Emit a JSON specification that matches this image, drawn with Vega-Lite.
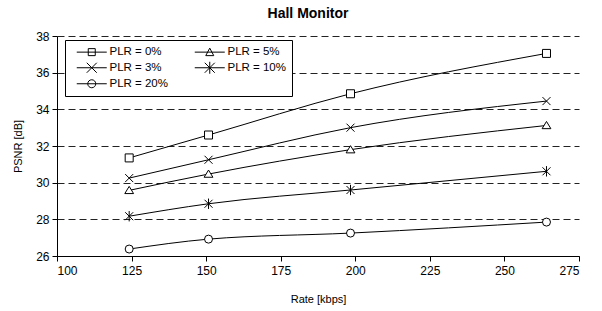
{
  "$schema": "https://vega.github.io/schema/vega-lite/v6.json",
  "autosize": {"type": "none"},
  "padding": {"left": 57, "top": 36, "right": 23, "bottom": 55},
  "width": 522,
  "height": 220,
  "background": "white",
  "title": {"text": "Hall Monitor", "font": "Liberation Sans", "fontSize": 14, "fontWeight": "bold", "color": "black", "anchor": "middle", "offset": 9, "dx": -10},
  "data": {"values": [
    {"rate": 124.2, "psnr": 31.35, "plr": "PLR = 0%"},
    {"rate": 150.8, "psnr": 32.6, "plr": "PLR = 0%"},
    {"rate": 198.4, "psnr": 34.85, "plr": "PLR = 0%"},
    {"rate": 264.1, "psnr": 37.05, "plr": "PLR = 0%"},
    {"rate": 124.2, "psnr": 30.25, "plr": "PLR = 3%"},
    {"rate": 150.8, "psnr": 31.25, "plr": "PLR = 3%"},
    {"rate": 198.4, "psnr": 33.0, "plr": "PLR = 3%"},
    {"rate": 264.1, "psnr": 34.45, "plr": "PLR = 3%"},
    {"rate": 124.2, "psnr": 29.58, "plr": "PLR = 5%"},
    {"rate": 150.8, "psnr": 30.47, "plr": "PLR = 5%"},
    {"rate": 198.4, "psnr": 31.8, "plr": "PLR = 5%"},
    {"rate": 264.1, "psnr": 33.12, "plr": "PLR = 5%"},
    {"rate": 124.2, "psnr": 28.17, "plr": "PLR = 10%"},
    {"rate": 150.8, "psnr": 28.85, "plr": "PLR = 10%"},
    {"rate": 198.4, "psnr": 29.6, "plr": "PLR = 10%"},
    {"rate": 264.1, "psnr": 30.62, "plr": "PLR = 10%"},
    {"rate": 124.2, "psnr": 26.38, "plr": "PLR = 20%"},
    {"rate": 150.8, "psnr": 26.92, "plr": "PLR = 20%"},
    {"rate": 198.4, "psnr": 27.25, "plr": "PLR = 20%"},
    {"rate": 264.1, "psnr": 27.85, "plr": "PLR = 20%"}
  ]},
  "config": {
    "view": {"stroke": null},
    "font": "Liberation Sans",
    "axis": {
      "labelFont": "Liberation Sans", "labelFontSize": 12, "labelColor": "black",
      "titleFont": "Liberation Sans", "titleFontSize": 11, "titleFontWeight": "normal", "titleColor": "black",
      "domainColor": "black", "tickColor": "black", "tickSize": 5
    }
  },
  "encoding": {
    "x": {"field": "rate", "type": "quantitative", "scale": {"domain": [100, 275], "nice": false, "zero": false},
      "axis": {"title": "Rate [kbps]", "values": [100, 125, 150, 175, 200, 225, 250, 275], "grid": false, "labelPadding": 4, "titleY": 37}},
    "y": {"field": "psnr", "type": "quantitative", "scale": {"domain": [26, 38], "nice": false, "zero": false},
      "axis": {"title": "PSNR [dB]", "values": [26, 28, 30, 32, 34, 36, 38], "grid": true, "gridColor": "#222", "gridDash": [7, 4], "gridWidth": 1, "labelPadding": 3, "titleX": -34}}
  },
  "layer": [
    {
      "mark": {"type": "line", "color": "black", "strokeWidth": 1, "interpolate": "monotone"},
      "encoding": {"detail": {"field": "plr"}}
    },
    {
      "mark": {"type": "point", "filled": false, "fill": "white", "fillOpacity": 1, "stroke": "black", "strokeWidth": 1, "opacity": 1},
      "encoding": {
        "shape": {"field": "plr", "type": "nominal",
          "scale": {"domain": ["PLR = 0%", "PLR = 5%", "PLR = 3%", "PLR = 10%", "PLR = 20%"],
            "range": ["M-1,-1H1V1H-1Z", "M0,-1L1.1,0.8H-1.1Z", "M-1,-1L1,1M-1,1L1,-1", "M-1,-1L1,1M-1,1L1,-1M0,-1.3V1.3", "circle"]},
          "legend": null},
        "size": {"value": 64}
      }
    },
    {
      "mark": {"type": "point", "filled": false, "stroke": "black", "strokeWidth": 1, "opacity": 0},
      "encoding": {
        "shape": {"field": "plr", "type": "nominal",
          "scale": {"domain": ["PLR = 0%", "PLR = 5%", "PLR = 3%", "PLR = 10%", "PLR = 20%"],
            "range": [
              "M0,0H6M2.3,-0.7H3.7V0.7H2.3Z",
              "M0,0H6M3,-0.8L3.8,0.7H2.2Z",
              "M0,0H6M2,-1L4,1M2,1L4,-1",
              "M0,0H6M2,-1L4,1M2,1L4,-1M3,-1.2V1.2",
              "M0,0H6M3.8,0A0.8,0.8,0,1,1,2.2,0A0.8,0.8,0,1,1,3.8,0"
            ]},
          "legend": {
            "title": null, "orient": "none", "legendX": 8, "legendY": 4, "columns": 2, "columnPadding": 21, "rowPadding": 1,
            "direction": "horizontal",
            "strokeColor": "black", "fillColor": "white", "padding": 6,
            "labelFont": "Liberation Sans", "labelFontSize": 11.5, "labelColor": "black", "labelOffset": 27,
            "symbolSize": 100, "symbolStrokeColor": "black", "symbolStrokeWidth": 1, "symbolFillColor": "transparent", "symbolOpacity": 1,
            "encode": {"symbols": {"update": {"opacity": {"value": 1}, "stroke": {"value": "black"}, "fill": {"value": "transparent"}}}}
          }},
        "size": {"value": 100}
      }
    }
  ],
  "resolve": {"scale": {"shape": "independent"}, "legend": {"shape": "independent"}}
}
